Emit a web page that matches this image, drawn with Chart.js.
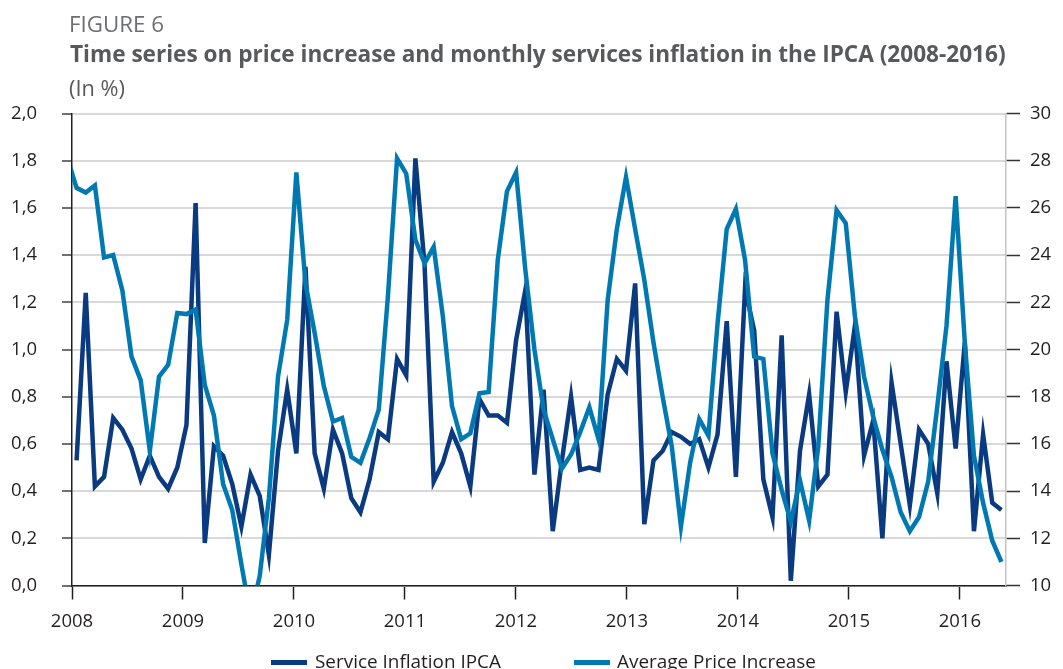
<!DOCTYPE html>
<html><head><meta charset="utf-8">
<script src="https://cdn.jsdelivr.net/npm/chart.js@4.4.0/dist/chart.umd.min.js"></script>
<style>
html,body{margin:0;padding:0;width:1063px;height:669px;overflow:hidden;background:#fff;font-family:"Open Sans",sans-serif;}
#wrap{position:relative;width:1063px;height:669px;overflow:hidden;}
canvas{position:absolute;left:0;top:0;}
.hdr{position:absolute;white-space:nowrap;line-height:1;display:inline-block;}
#fig{left:69px;color:#6d6e71;font-weight:400;}
#title{left:70px;color:#58595b;font-weight:700;}
#unit{left:69px;color:#58595b;font-weight:400;}
.lt{position:absolute;white-space:nowrap;line-height:1;color:#231f20;display:inline-block;}
.sw{position:absolute;height:5px;}
</style></head>
<body><div id="wrap">
<canvas id="c" width="1063" height="669"></canvas>
<div class="hdr" id="fig">FIGURE 6</div>
<div class="hdr" id="title">Time series on price increase and monthly services inflation in the IPCA (2008-2016)</div>
<div class="hdr" id="unit">(In %)</div>
<div id="legend"></div>
</div>
<script>
// ---- Data (monthly, Dec 2007 .. Jun 2016) ----
const MONTHS = [];
for (let y = 2007, m = 12; MONTHS.length < 103;) { MONTHS.push(y + '-' + String(m).padStart(2, '0')); m++; if (m > 12) { m = 1; y++; } }

const YEAR_LABELS = ['2008','2009','2010','2011','2012','2013','2014','2015','2016'];

// Service Inflation IPCA (left axis, %)
const SERVICE_INFLATION = [null,
 0.53, 1.24, 0.42, 0.46, 0.71, 0.66, 0.58, 0.45, 0.55, 0.46, 0.41, 0.50,
 0.68, 1.62, 0.18, 0.59, 0.55, 0.43, 0.25, 0.47, 0.38, 0.13, 0.57, 0.83,
 0.56, 1.35, 0.56, 0.41, 0.66, 0.56, 0.37, 0.31, 0.45, 0.65, 0.62, 0.96,
 0.89, 1.81, 1.36, 0.44, 0.52, 0.65, 0.56, 0.42, 0.79, 0.72, 0.72, 0.69,
 1.04, 1.25, 0.47, 0.83, 0.23, 0.53, 0.80, 0.49, 0.50, 0.49, 0.81, 0.96,
 0.91, 1.28, 0.26, 0.53, 0.57, 0.65, 0.63, 0.60, 0.62, 0.50, 0.64, 1.12,
 0.46, 1.26, 1.08, 0.45, 0.29, 1.06, 0.02, 0.57, 0.81, 0.42, 0.47, 1.16,
 0.82, 1.10, 0.55, 0.70, 0.20, 0.86, 0.60, 0.34, 0.66, 0.60, 0.39, 0.95,
 0.58, 1.03, 0.23, 0.64, 0.35, 0.32];

// Average Price Increase (right axis, %)
const AVG_PRICE_INCREASE = [28.1,
 26.85, 26.65, 26.95, 23.9, 24.0, 22.5, 19.7, 18.7, 15.7, 18.85, 19.35, 21.55,
 21.5, 21.7, 18.5, 17.2, 14.3, 13.2, 10.9, 8.7, 10.4, 13.7, 18.85, 21.25,
 27.5, 22.8, 20.7, 18.45, 16.95, 17.1, 15.45, 15.2, 16.25, 17.45, 22.25, 28.1,
 27.45, 24.65, 23.65, 24.35, 21.4, 17.6, 16.2, 16.45, 18.15, 18.2, 23.8, 26.7,
 27.5, 23.4, 20.0, 17.45, 16.2, 14.95, 15.55, 16.5, 17.55, 16.2, 22.1, 25.1,
 27.3, 25.1, 22.95, 20.3, 18.0, 15.9, 12.5, 15.2, 17.05, 16.35, 21.1, 25.1,
 25.95, 23.8, 19.7, 19.6, 15.6, 14.05, 12.7, 14.45, 12.75, 15.9, 22.1, 25.9,
 25.35, 21.4, 18.85, 17.15, 15.75, 14.6, 13.1, 12.3, 12.9, 14.4, 17.6, 21.0,
 26.5, 20.3, 15.5, 13.5, 11.9, 11.0];

const SERIES_NAMES = ['Service Inflation IPCA', 'Average Price Increase'];
const COLORS = ['#0a3a7f', '#0079b3'];

// ---- axis configuration ----
const YEAR_TICK_STEP = 12.12;   // spacing of year ticks on the month axis
const toPoints = arr => arr.map((v, k) => ({ x: k - 0.5, y: v }));
const INK = '#231f20';
const tickFont = { family: '"Open Sans", sans-serif', size: 18.5 };

const chart = new Chart(document.getElementById('c'), {
  type: 'line',
  data: {
    datasets: [
      { label: SERIES_NAMES[0], data: toPoints(SERVICE_INFLATION), yAxisID: 'yL', borderColor: COLORS[0], backgroundColor: COLORS[0], order: 1 },
      { label: SERIES_NAMES[1], data: toPoints(AVG_PRICE_INCREASE), yAxisID: 'yR', borderColor: COLORS[1], backgroundColor: COLORS[1], order: 0 }
    ]
  },
  options: {
    responsive: false,
    animation: false,
    devicePixelRatio: 1,
    layout: { padding: { top: 113.5, left: 0, right: 0, bottom: 0 } },
    elements: {
      line: { borderWidth: 4.5, tension: 0, fill: false, borderJoinStyle: 'miter', borderCapStyle: 'butt' },
      point: { radius: 0, hoverRadius: 0 }
    },
    datasets: { line: { clip: 0, spanGaps: false } },
    plugins: { legend: { display: false }, tooltip: { enabled: false }, title: { display: false } },
    scales: {
      x: {
        type: 'linear', min: 0, max: 102,
        afterBuildTicks: axis => { axis.ticks = YEAR_LABELS.map((_, k) => ({ value: k * YEAR_TICK_STEP })); },
        afterFit: axis => { axis.height = 83.5; },
        grid: { drawOnChartArea: false, drawTicks: true, tickLength: 14, tickColor: INK, tickWidth: 1.5 },
        border: { display: true, color: INK, width: 1.5 },
        ticks: { autoSkip: false, maxRotation: 0, padding: 11, color: INK, font: tickFont,
                 callback: (v, i) => YEAR_LABELS[i] }
      },
      yL: {
        position: 'left', min: 0, max: 2,
        afterFit: axis => { axis.width = 72; },
        grid: { color: '#d9d9d9', lineWidth: 2, drawTicks: true, tickLength: 10, tickColor: '#404040', tickWidth: 1.5 },
        border: { display: true, color: INK, width: 1.5 },
        ticks: { stepSize: 0.2, padding: 25, color: INK, font: tickFont,
                 callback: v => v.toFixed(1).replace('.', ',') }
      },
      yR: {
        position: 'right', min: 10, max: 30,
        afterFit: axis => { axis.width = 57; },
        grid: { drawOnChartArea: false, drawTicks: true, tickLength: 14, tickColor: '#333333', tickWidth: 1.5 },
        border: { display: true, color: '#c4c4c4', width: 1.5 },
        ticks: { stepSize: 2, padding: 10, color: INK, font: tickFont, callback: v => String(Math.round(v)) }
      }
    }
  }
});

// ---- header text fitted to the reference widths ----
function baselineOf(el) {
  const s = document.createElement('span');
  s.style.cssText = 'display:inline-block;width:0;height:0;vertical-align:baseline;';
  el.appendChild(s);
  const off = s.getBoundingClientRect().top - el.getBoundingClientRect().top;
  el.removeChild(s);
  return off;
}
function place(el, baseSize, targetWidth, baseline) {
  el.style.fontSize = baseSize + 'px';
  const w = el.getBoundingClientRect().width;
  const fs = baseSize * targetWidth / w;
  el.style.fontSize = fs + 'px';
  el.style.top = '0px';
  el.style.top = (baseline - baselineOf(el)) + 'px';
  return fs;
}
place(document.getElementById('fig'), 22, 95, 32);
place(document.getElementById('title'), 19, 936, 62);
place(document.getElementById('unit'), 20, 56, 96);

// ---- legend built from the chart datasets ----
const LEG = [{ sw: 271, tx: 315 }, { sw: 574, tx: 617 }];
const legend = document.getElementById('legend');
let legendFs = null;
chart.data.datasets.forEach((ds, k) => {
  const sw = document.createElement('div');
  sw.className = 'sw';
  sw.style.left = LEG[k].sw + 'px'; sw.style.top = '659.5px'; sw.style.width = '36px';
  sw.style.background = ds.borderColor;
  legend.appendChild(sw);
  const t = document.createElement('div');
  t.className = 'lt';
  t.textContent = ds.label;
  t.style.left = LEG[k].tx + 'px';
  legend.appendChild(t);
  if (legendFs === null) legendFs = place(t, 18, 186, 668);
  else { t.style.fontSize = legendFs + 'px'; t.style.top = '0px'; t.style.top = (668 - baselineOf(t)) + 'px'; }
});
</script>
</body></html>
